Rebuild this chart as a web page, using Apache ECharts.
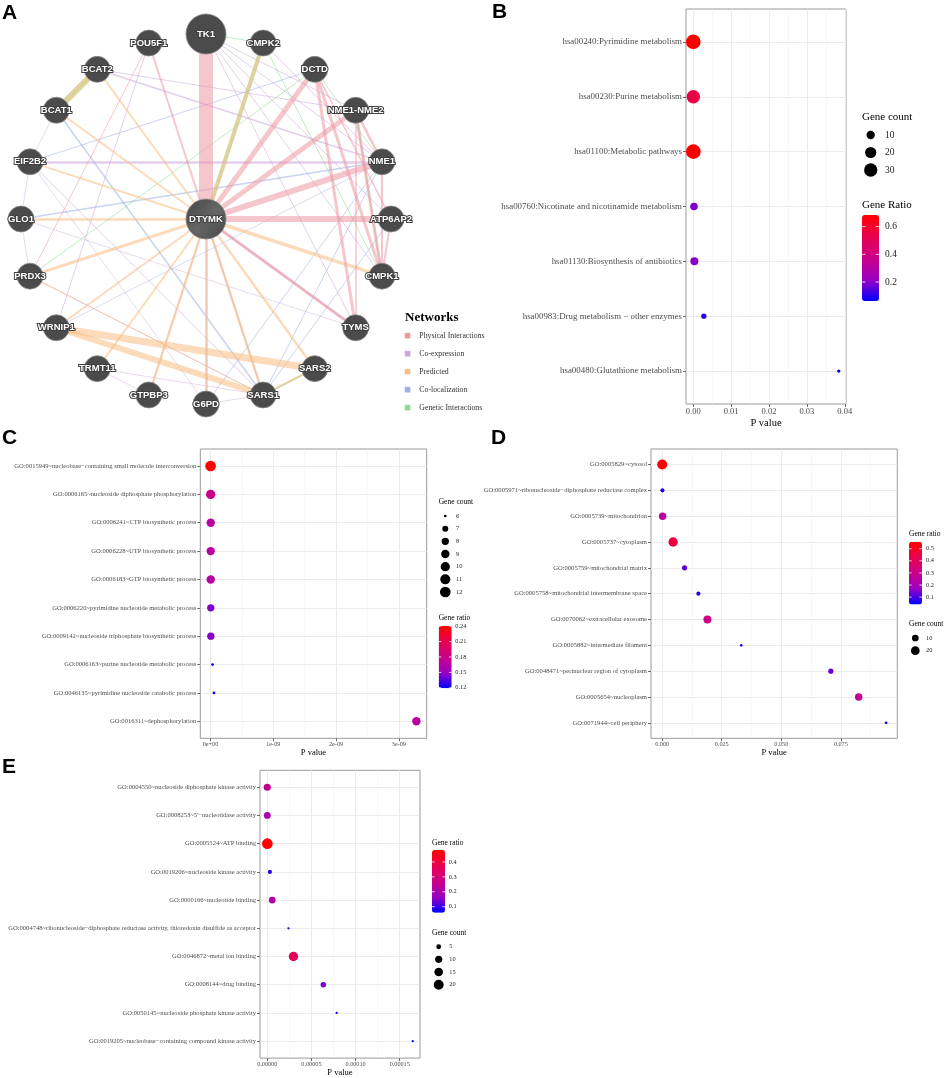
<!DOCTYPE html>
<html><head><meta charset="utf-8">
<script src="https://cdn.jsdelivr.net/npm/echarts@6/dist/echarts.min.js"></script>
<style>html,body{margin:0;padding:0;background:#fff}#c{width:948px;height:1078px}</style>
</head><body><div id="c"></div>
<script>
// ================= DATA =================
// ---- Panel A: GeneMANIA-style network ----
const ringGenes = ['TK1','CMPK2','DCTD','NME1-NME2','NME1','ATP6AP2','CMPK1','TYMS','SARS2','SARS1','G6PD','GTPBP3','TRMT11','WRNIP1','PRDX3','GLO1','EIF2B2','BCAT1','BCAT2','POU5F1'];
const hubGene = 'DTYMK';
const bigGenes = ['TK1','DTYMK'];
const networkTypes = ['Physical Interactions','Co-expression','Predicted','Co-localization','Genetic Interactions'];
// [source, target, type index, weight]
const netEdges = [
  ['GLO1','PRDX3',1,0.8],['GLO1','EIF2B2',1,0.8],['EIF2B2','BCAT1',1,0.8],['TRMT11','GTPBP3',1,0.8],
  ['TRMT11','SARS1',1,0.8],['G6PD','SARS1',1,0.8],['GTPBP3','DTYMK',1,1],['G6PD','DTYMK',1,1],
  ['PRDX3','SARS1',1,1],['POU5F1','WRNIP1',1,1],['TK1','NME1-NME2',1,1],['CMPK2','NME1',1,1],
  ['EIF2B2','NME1',1,2.5],['BCAT2','NME1',1,1.5],['BCAT2','NME1-NME2',1,1],['TK1','NME1',1,1],
  ['TK1','ATP6AP2',1,1],['TK1','TYMS',1,1],['TK1','CMPK1',1,1],['EIF2B2','SARS1',1,1],
  ['EIF2B2','G6PD',1,0.8],['DTYMK','SARS1',1,1.5],['DTYMK','TYMS',1,2],['GLO1','TYMS',1,0.8],
  ['BCAT1','SARS1',3,1.5],['GLO1','NME1',3,1.5],['EIF2B2','DCTD',3,1],['NME1','SARS1',3,1],
  ['NME1','G6PD',3,1],['WRNIP1','NME1',3,0.8],['ATP6AP2','SARS1',3,1],
  ['TK1','CMPK2',4,1],['DCTD','PRDX3',4,1],['DCTD','NME1',4,1],['SARS1','SARS2',4,2],
  ['NME1-NME2','CMPK1',4,1.5],['CMPK2','CMPK1',4,1],['BCAT2','BCAT1',4,6],['CMPK2','DTYMK',4,4],
  ['BCAT2','BCAT1',2,6],['BCAT2','DTYMK',2,2],['BCAT1','DTYMK',2,2],['EIF2B2','DTYMK',2,2],
  ['GLO1','DTYMK',2,2.5],['PRDX3','DTYMK',2,3],['PRDX3','SARS1',2,1],['WRNIP1','DTYMK',2,2],
  ['WRNIP1','SARS2',2,7],['WRNIP1','SARS1',2,6],['TRMT11','DTYMK',2,2],['GTPBP3','DTYMK',2,2.5],
  ['G6PD','DTYMK',2,3],['SARS1','DTYMK',2,2.5],['SARS2','DTYMK',2,2.5],['CMPK1','DTYMK',2,3.5],
  ['CMPK2','DTYMK',2,4],['SARS1','SARS2',2,2],
  ['TK1','DTYMK',0,14],['DCTD','DTYMK',0,5],['NME1-NME2','DTYMK',0,5],['NME1','DTYMK',0,6],
  ['ATP6AP2','DTYMK',0,6],['DTYMK','TYMS',0,3],['POU5F1','DTYMK',0,2],['POU5F1','PRDX3',0,1],
  ['DCTD','CMPK1',0,3],['DCTD','TYMS',0,3],['NME1-NME2','CMPK1',0,3],['NME1-NME2','NME1',0,2.5],
  ['NME1','CMPK1',0,2],['ATP6AP2','CMPK1',0,2],['DCTD','ATP6AP2',0,1.5],['NME1-NME2','TYMS',0,1.5]
];

// ---- Panel B: KEGG ----
const bTerms = ['hsa00240:Pyrimidine metabolism','hsa00230:Purine metabolism','hsa01100:Metabolic pathways','hsa00760:Nicotinate and nicotinamide metabolism','hsa01130:Biosynthesis of antibiotics','hsa00983:Drug metabolism − other enzymes','hsa00480:Glutathione metabolism'];
const bPval = [0.00001, 0.00002, 0.00003, 0.0002, 0.0003, 0.0028, 0.0384];
const bCount = [38, 31, 38, 8, 9, 4, 3];
const bRatio = [0.684, 0.55, 0.68, 0.19, 0.2, 0.11, 0.063];
const bXTicks = [0, 0.01, 0.02, 0.03, 0.04];
const bCountBreaks = [10, 20, 30];
const bRatioBreaks = [0.2, 0.4, 0.6];

// ---- Panel C: GO BP ----
const cTerms = ['GO:0015949~nucleobase−containing small molecule interconversion','GO:0006165~nucleoside diphosphate phosphorylation','GO:0006241~CTP biosynthetic process','GO:0006228~UTP biosynthetic process','GO:0006183~GTP biosynthetic process','GO:0006220~pyrimidine nucleotide metabolic process','GO:0009142~nucleoside triphosphate biosynthetic process','GO:0006163~purine nucleotide metabolic process','GO:0046135~pyrimidine nucleoside catabolic process','GO:0016311~dephosphorylation'];
const cPval = [0.001e-9, 0.002e-9, 0.003e-9, 0.003e-9, 0.003e-9, 0.004e-9, 0.005e-9, 0.032e-9, 0.055e-9, 3.28e-9];
const cCount = [12, 10, 9, 9, 9, 8, 8, 6, 6, 9];
const cRatio = [0.241, 0.18, 0.168, 0.168, 0.168, 0.145, 0.145, 0.119, 0.119, 0.168];
const cXTicks = [0, 1e-9, 2e-9, 3e-9];
const cCountBreaks = [6, 7, 8, 9, 10, 11, 12];
const cRatioBreaks = [0.12, 0.15, 0.18, 0.21, 0.24];

// ---- Panel D: GO CC ----
const dTerms = ['GO:0005829~cytosol','GO:0005971~ribonucleoside−diphosphate reductase complex','GO:0005739~mitochondrion','GO:0005737~cytoplasm','GO:0005759~mitochondrial matrix','GO:0005758~mitochondrial intermembrane space','GO:0070062~extracellular exosome','GO:0005882~intermediate filament','GO:0048471~perinuclear region of cytoplasm','GO:0005654~nucleoplasm','GO:0071944~cell periphery'];
const dPval = [0.00001, 0.0001, 0.0002, 0.0046, 0.0094, 0.0152, 0.019, 0.0332, 0.0708, 0.0825, 0.094];
const dCount = [28, 3, 13, 24, 5, 3, 16, 2, 5, 13, 2];
const dRatio = [0.558, 0.076, 0.27, 0.45, 0.118, 0.065, 0.3, 0.07, 0.13, 0.28, 0.04];
const dXTicks = [0, 0.025, 0.05, 0.075];
const dCountBreaks = [10, 20];
const dRatioBreaks = [0.1, 0.2, 0.3, 0.4, 0.5];

// ---- Panel E: GO MF ----
const eTerms = ['GO:0004550~nucleoside diphosphate kinase activity','GO:0008253~5\'−nucleotidase activity','GO:0005524~ATP binding','GO:0019206~nucleoside kinase activity','GO:0000166~nucleotide binding','GO:0004748~ribonucleoside−diphosphate reductase activity, thioredoxin disulfide as acceptor','GO:0046872~metal ion binding','GO:0008144~drug binding','GO:0050145~nucleoside phosphate kinase activity','GO:0019205~nucleobase−containing compound kinase activity'];
const ePval = [0.00000002, 0.00000005, 0.0000001, 0.0000030, 0.0000056, 0.0000240, 0.0000297, 0.0000635, 0.0000786, 0.0001647];
const eCount = [10, 9, 24, 4, 9, 3, 18, 6, 3, 3];
const eRatio = [0.25, 0.2, 0.48, 0.09, 0.22, 0.07, 0.36, 0.14, 0.07, 0.06];
const eXTicks = [0, 0.00005, 0.0001, 0.00015];
const eCountBreaks = [5, 10, 15, 20];
const eRatioBreaks = [0.1, 0.2, 0.3, 0.4];

// ================= STYLE / LAYOUT =================
const SERIF = '"Liberation Serif","DejaVu Serif",serif';
const SANS = '"Liberation Sans",Arial,sans-serif';
const netColors = ['#EE98A4','#CCA8D8','#F8BE82','#9FB0E2','#8EDC8E'];
const gradient = ['#0000FF','#9A00C2','#CA0089','#E8004F','#FF0000'];

const panels = [
  {terms:bTerms, p:bPval, n:bCount, r:bRatio, ticks:bXTicks, cb:bCountBreaks, rb:bRatioBreaks,
   fmt:v=>v.toFixed(2), grid:{left:686, top:9, width:160, height:395},
   yFont:8.9, xFont:8.5, nameFont:10.5, nameGap:14, dMin:3.3, dMax:14.7,
   cnt:{x:862, ty:117, cx:870.7, y0:135, dy:17.5, lx:885, tf:11, lf:9.5},
   rat:{x:862, ty:205, bar:[862,215,17,86], lx:885, tf:11, lf:9.5}},
  {terms:cTerms, p:cPval, n:cCount, r:cRatio, ticks:cXTicks, cb:cCountBreaks, rb:cRatioBreaks,
   fmt:v=>v===0?'0e+00':Math.round(v*1e9)+'e-09', grid:{left:200.3, top:449, width:226.4, height:289.3},
   yFont:6.55, xFont:6.2, nameFont:8.5, nameGap:9, dMin:2.7, dMax:10.7,
   cnt:{x:438.7, ty:502.3, cx:445.3, y0:516, dy:12.67, lx:456, tf:7.5, lf:6.3},
   rat:{x:438.7, ty:618, bar:[438.7,625.7,13,62.6], lx:455.3, tf:7.5, lf:6.3}},
  {terms:dTerms, p:dPval, n:dCount, r:dRatio, ticks:dXTicks, cb:dCountBreaks, rb:dRatioBreaks,
   fmt:v=>v.toFixed(3), grid:{left:651, top:449, width:246.3, height:289.3},
   yFont:6.6, xFont:6.2, nameFont:8.5, nameGap:9, dMin:2.7, dMax:10,
   cnt:{x:909, ty:624, cx:915.3, y0:638, dy:12.7, lx:926, tf:7.5, lf:6.3},
   rat:{x:909, ty:534, bar:[909,541.7,13,62.7], lx:926, tf:7.5, lf:6.3}},
  {terms:eTerms, p:ePval, n:eCount, r:eRatio, ticks:eXTicks, cb:eCountBreaks, rb:eRatioBreaks,
   fmt:v=>v.toFixed(5), grid:{left:260, top:770.3, width:160, height:289.5},
   yFont:6.55, xFont:6.2, nameFont:8.5, nameGap:9, dMin:2.3, dMax:10.7,
   cnt:{x:432, ty:932.7, cx:438.7, y0:946.7, dy:12.67, lx:449.3, tf:7.5, lf:6.3},
   rat:{x:432, ty:842.7, bar:[432,850,13,62.7], lx:448.7, tf:7.5, lf:6.3}}
];

// ================= BUILD =================
const option = {animation:false, backgroundColor:'#fff', grid:[], xAxis:[], yAxis:[], series:[], visualMap:[], graphic:[]};
const G = option.graphic;
function txt(x, y, s, size, opts) {
  G.push({type:'text', x:x, y:y, silent:true, style:Object.assign({text:s, fontSize:size, fontFamily:SERIF, fill:'#000', align:'left', verticalAlign:'middle'}, opts||{})});
}

// --- Panels B..E (series 0..3) ---
panels.forEach((P, k) => {
  const nT = P.terms.length;
  const lo = Math.min(...P.p), hi = Math.max(...P.p), pad = 0.05 * (hi - lo);
  const xmin = lo - pad, xmax = hi + pad;
  const step = P.ticks[1] - P.ticks[0];
  const minors = [];
  P.ticks.forEach(t => [t - step / 2, t + step / 2].forEach(m => {
    if (m > xmin && m < xmax && !minors.some(q => Math.abs(q - m) < step * 1e-6)) minors.push(m);
  }));
  const idx = P.terms.map((_, i) => i);
  option.grid.push(Object.assign({show:true, borderColor:'#9a9a9a', borderWidth:1, backgroundColor:'transparent'}, P.grid));
  option.xAxis.push({gridIndex:k, type:'value', min:xmin, max:xmax, position:'bottom',
    axisLine:{show:false, onZero:false},
    axisTick:{show:true, length:3, lineStyle:{color:'#444', width:0.8}, customValues:P.ticks},
    axisLabel:{customValues:P.ticks, formatter:P.fmt, fontSize:P.xFont, color:'#4d4d4d', fontFamily:SERIF, margin:3},
    splitLine:{show:true, lineStyle:{color:'#ebebeb', width:1}},
    name:'P value', nameLocation:'middle', nameGap:P.nameGap,
    nameTextStyle:{fontSize:P.nameFont, color:'#000', fontFamily:SERIF, verticalAlign:'top'}});
  option.xAxis.push({gridIndex:k, type:'value', min:xmin, max:xmax, position:'top',
    axisLine:{show:false, onZero:false}, axisTick:{show:false, customValues:minors}, axisLabel:{show:false},
    splitLine:{show:true, lineStyle:{color:'#f3f3f3', width:0.6}}});
  option.yAxis.push({gridIndex:k, type:'value', inverse:true, min:-0.6, max:nT - 0.4, position:'left',
    axisLine:{show:false, onZero:false},
    axisTick:{show:true, length:3, lineStyle:{color:'#444', width:0.8}, customValues:idx},
    axisLabel:{customValues:idx, formatter:v => P.terms[Math.round(v)], fontSize:P.yFont, color:'#4d4d4d', fontFamily:SERIF, margin:4},
    splitLine:{show:true, lineStyle:{color:'#ebebeb', width:1}}});
  const cMin = Math.min(...P.n), cMax = Math.max(...P.n);
  const size = c => P.dMin + (P.dMax - P.dMin) * Math.sqrt(Math.max(0, (c - cMin) / (cMax - cMin)));
  option.series.push({type:'scatter', xAxisIndex:2 * k, yAxisIndex:k, silent:true,
    data:P.terms.map((t, i) => [P.p[i], i, P.n[i], P.r[i]]),
    symbolSize:v => size(v[2]), itemStyle:{opacity:1}});
  const rMin = Math.min(...P.r), rMax = Math.max(...P.r);
  const b = P.rat.bar;
  option.visualMap.push({type:'continuous', seriesIndex:k, dimension:3, min:rMin, max:rMax,
    inRange:{color:gradient}, left:b[0], top:b[1], itemWidth:b[2], itemHeight:b[3], padding:0,
    calculable:false, hoverLink:false, orient:'vertical', text:null, showLabel:false});
  txt(P.rat.x, P.rat.ty, k === 0 ? 'Gene Ratio' : 'Gene ratio', P.rat.tf);
  P.rb.forEach(v => {
    const y = b[1] + (rMax - v) / (rMax - rMin) * b[3];
    G.push({type:'line', silent:true, z:100, shape:{x1:b[0], y1:y, x2:b[0] + b[2] * 0.2, y2:y}, style:{stroke:'#fff', lineWidth:0.8}});
    G.push({type:'line', silent:true, z:100, shape:{x1:b[0] + b[2] * 0.8, y1:y, x2:b[0] + b[2], y2:y}, style:{stroke:'#fff', lineWidth:0.8}});
    txt(P.rat.lx, y, String(v), P.rat.lf, {fill:'#222'});
  });
  txt(P.cnt.x, P.cnt.ty, 'Gene count', P.cnt.tf);
  P.cb.forEach((c, i) => {
    const y = P.cnt.y0 + i * P.cnt.dy;
    G.push({type:'circle', silent:true, shape:{cx:P.cnt.cx, cy:y, r:size(c) / 2}, style:{fill:'#000'}});
    txt(P.cnt.lx, y, String(c), P.cnt.lf, {fill:'#222'});
  });
});

// --- Panel A: circular layout drawn on a hidden cartesian grid ---
option.grid.push({left:21, top:34, width:370, height:370, show:false});
const NX = option.xAxis.length, NY = option.yAxis.length, NG = option.grid.length - 1;
option.xAxis.push({gridIndex:NG, type:'value', min:-1, max:1, show:false, axisLine:{onZero:false}, splitLine:{show:false}});
option.yAxis.push({gridIndex:NG, type:'value', min:-1, max:1, show:false, axisLine:{onZero:false}, splitLine:{show:false}});
const layoutPos = {};
ringGenes.forEach((g, i) => {
  const a = i * 2 * Math.PI / ringGenes.length;
  layoutPos[g] = [Math.sin(a), Math.cos(a)];
});
layoutPos[hubGene] = [0, 0];
[4, 1, 3, 2, 0].forEach(t => {
  option.series.push({type:'lines', coordinateSystem:'cartesian2d', xAxisIndex:NX, yAxisIndex:NY, silent:true, z:2,
    lineStyle:{color:netColors[t], opacity:0.55, curveness:0},
    data:netEdges.filter(e => e[2] === t).map(e => ({coords:[layoutPos[e[0]], layoutPos[e[1]]], lineStyle:{width:e[3]}}))});
});
// hatched fill for the query gene
const hatch = document.createElement('canvas');
hatch.width = 6; hatch.height = 6;
(function () {
  const c = hatch.getContext('2d');
  c.fillStyle = '#4b4b4b'; c.fillRect(0, 0, 6, 6);
  c.strokeStyle = '#6a6a6a'; c.lineWidth = 1.2;
  c.beginPath(); c.moveTo(-1, 7); c.lineTo(7, -1); c.moveTo(-1, 1); c.lineTo(1, -1); c.moveTo(5, 7); c.lineTo(7, 5); c.stroke();
})();
option.series.push({type:'scatter', xAxisIndex:NX, yAxisIndex:NY, silent:true, z:3,
  data:ringGenes.concat([hubGene]).map(g => ({name:g, value:layoutPos[g], symbolSize:bigGenes.includes(g) ? 40 : 26,
    itemStyle: g === hubGene ? {color:{image:hatch, repeat:'repeat'}} : undefined})),
  itemStyle:{color:'#4b4b4b', borderColor:'#8a8a8a', borderWidth:0.8, opacity:1},
  label:{show:true, formatter:'{b}', position:'inside', color:'#fff', fontSize:9.5, fontFamily:SANS, fontWeight:'bold', textBorderColor:'#404040', textBorderWidth:2}});

txt(405, 317.5, 'Networks', 13, {fontWeight:'bold'});
networkTypes.forEach((t, i) => {
  const y = 335.7 + i * 18;
  G.push({type:'rect', silent:true, shape:{x:404.8, y:y-2.8, width:5.6, height:5.6}, style:{fill:netColors[i]}});
  txt(419.3, y, t, 7.8, {fill:'#333'});
});

// panel letters
[['A',2,13],['B',492,12],['C',2,438],['D',491,438],['E',2,767]].forEach(l => {
  G.push({type:'text', x:l[1], y:l[2], silent:true, style:{text:l[0], fontSize:21, fontWeight:'bold', fontFamily:SANS, fill:'#000', verticalAlign:'middle'}});
});

const chart = echarts.init(document.getElementById('c'), null, {renderer:'canvas'});
chart.setOption(option);
</script>
</body></html>
